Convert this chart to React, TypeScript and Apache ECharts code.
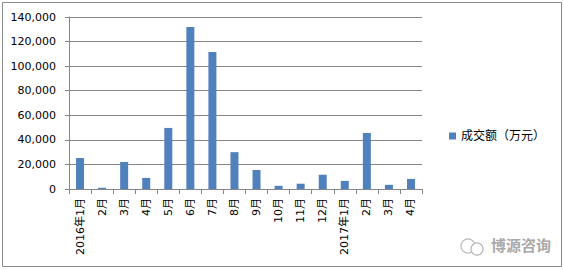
import React, { useEffect, useRef } from "react";
import * as echarts from "echarts";

const categories = ["2016年1月", "2月", "3月", "4月", "5月", "6月", "7月", "8月", "9月", "10月", "11月", "12月", "2017年1月", "2月", "3月", "4月"];
const values = [25200, 1000, 22000, 9000, 49700, 131800, 111500, 30000, 15500, 2600, 4300, 11600, 6600, 45600, 3400, 8200];
const seriesName = "成交额（万元）";
const yTicks = { min: 0, max: 140000, interval: 20000 };

export default function App() {
  const ref = useRef<HTMLDivElement>(null);
  useEffect(() => {
    const chart = echarts.init(ref.current!, null, { renderer: "svg" });
    const font = "'DejaVu Sans', 'Noto Sans CJK SC', sans-serif";
    chart.setOption({
      animation: false,
      backgroundColor: "#fff",
      grid: { left: 69, right: 142, top: 17, bottom: 81, containLabel: false },
      legend: {
        data: [{ name: seriesName, icon: "rect" }],
        left: 444,
        top: 125,
        itemWidth: 7,
        itemHeight: 7,
        itemGap: 2,
        textStyle: { fontSize: 12, color: "#000", fontFamily: font },
      },
      xAxis: {
        type: "category",
        data: categories,
        axisLine: { lineStyle: { color: "#868686" } },
        axisTick: { show: true, lineStyle: { color: "#868686" }, length: 5 },
        axisLabel: { rotate: 90, interval: 0, fontSize: 11, color: "#000", fontFamily: font, margin: 9 },
      },
      yAxis: {
        type: "value",
        min: yTicks.min,
        max: yTicks.max,
        interval: yTicks.interval,
        axisLine: { show: true, lineStyle: { color: "#868686" } },
        axisTick: { show: true, lineStyle: { color: "#868686" }, length: 4 },
        splitLine: { lineStyle: { color: "#868686" } },
        axisLabel: {
          fontSize: 11,
          color: "#000",
          fontFamily: font,
          margin: 13,
          formatter: (v: number) => v.toLocaleString("en-US"),
        },
      },
      series: [
        {
          name: seriesName,
          type: "bar",
          data: values,
          barWidth: 8,
          itemStyle: { color: "#4f81bd" },
        },
      ],
      graphic: [
        {
          type: "rect",
          shape: { x: 2.5, y: 2.5, width: 559, height: 264 },
          style: { fill: "none", stroke: "#8c8c8c", lineWidth: 1 },
          silent: true,
        },
        {
          type: "circle",
          shape: { cx: 468, cy: 246, r: 7 },
          style: { fill: "none", stroke: "#b8b8b8", lineWidth: 1.2 },
        },
        {
          type: "circle",
          shape: { cx: 477, cy: 249, r: 6 },
          style: { fill: "#fff", stroke: "#b8b8b8", lineWidth: 1.2 },
        },
        {
          type: "text",
          left: 491,
          top: 237,
          style: { text: "博源咨询", fontSize: 15, fontWeight: "bold", fill: "#a8a8a8", fontFamily: "'Noto Sans CJK SC', sans-serif" },
        },
      ],
    });
    return () => chart.dispose();
  }, []);
  return <div ref={ref} style={{ width: 564, height: 270, position: "absolute", left: 0, top: 0 }} />;
}
